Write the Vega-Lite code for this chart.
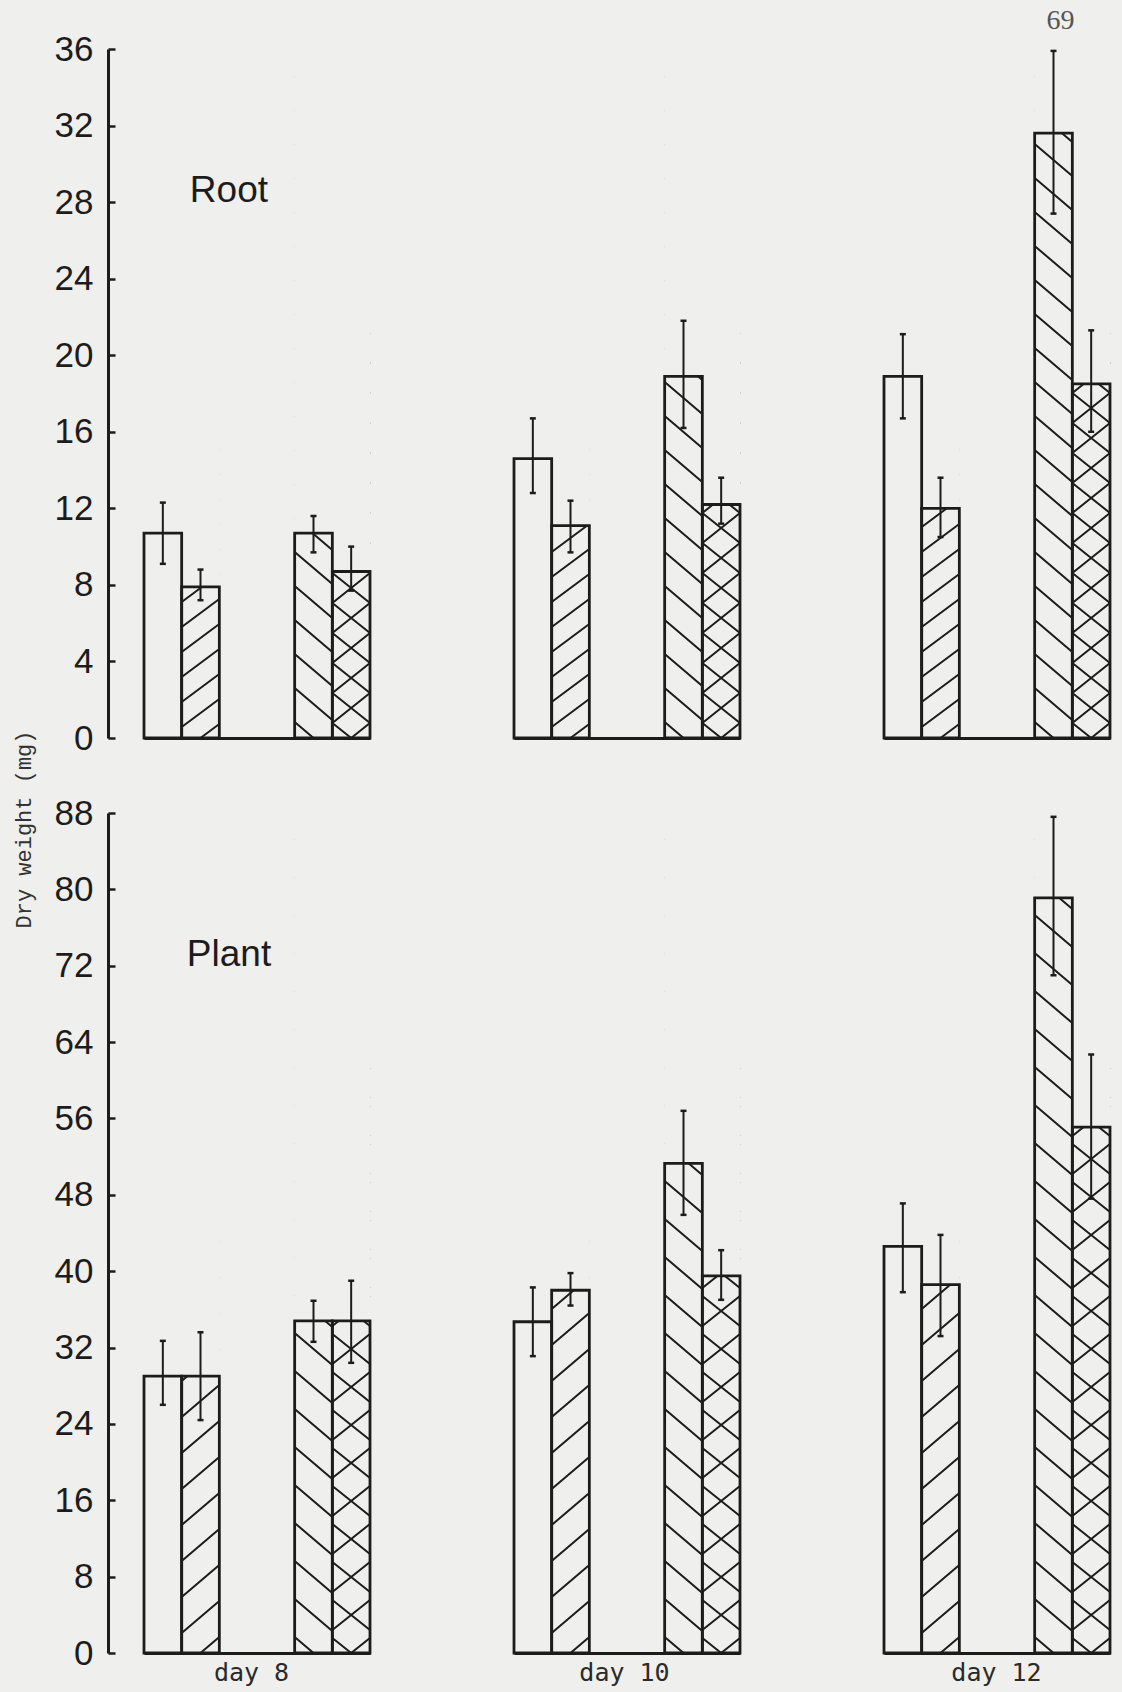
{
  "$schema": "https://vega.github.io/schema/vega-lite/v6.json",
  "background": "#efefed",
  "autosize": {"type": "none"},
  "padding": {"left": 144, "top": 49, "right": 978, "bottom": 1643},
  "config": {
    "view": {"stroke": null},
    "font": "Liberation Sans",
    "axisX": {"labels": false, "ticks": false, "grid": false, "domainWidth": 3, "domainColor": "#1c1c1c", "titleFont": "DejaVu Sans Mono", "titleFontSize": 25, "titleFontWeight": "normal", "titleColor": "#2a2a2a", "titlePadding": 7},
    "axisY": {"offset": 36, "grid": false, "domainWidth": 3, "domainColor": "#1c1c1c", "tickSize": -7, "tickWidth": 2.5, "tickColor": "#1c1c1c", "labelFont": "Liberation Sans", "labelFontSize": 35, "labelColor": "#1c1c1c", "labelPadding": 22, "labelOverlap": false, "labelFlush": false, "titleFont": "Liberation Mono", "titleFontSize": 22, "titleFontWeight": "normal", "titleColor": "#333333", "titleX": -85, "titleY": 16, "titleAngle": -90, "titleAlign": "center", "titleBaseline": "middle"}
  },
  "datasets": {
    "weights": [
      {"panel": "Root", "day": "day 8", "treatment": "T1", "dry_weight": 10.7, "err_low": 9.1, "err_high": 12.3},
      {"panel": "Root", "day": "day 8", "treatment": "T2", "dry_weight": 7.9, "err_low": 7.2, "err_high": 8.8},
      {"panel": "Root", "day": "day 8", "treatment": "T3", "dry_weight": 10.7, "err_low": 9.7, "err_high": 11.6},
      {"panel": "Root", "day": "day 8", "treatment": "T4", "dry_weight": 8.7, "err_low": 7.7, "err_high": 10.0},
      {"panel": "Root", "day": "day 10", "treatment": "T1", "dry_weight": 14.6, "err_low": 12.8, "err_high": 16.7},
      {"panel": "Root", "day": "day 10", "treatment": "T2", "dry_weight": 11.1, "err_low": 9.7, "err_high": 12.4},
      {"panel": "Root", "day": "day 10", "treatment": "T3", "dry_weight": 18.9, "err_low": 16.2, "err_high": 21.8},
      {"panel": "Root", "day": "day 10", "treatment": "T4", "dry_weight": 12.2, "err_low": 11.2, "err_high": 13.6},
      {"panel": "Root", "day": "day 12", "treatment": "T1", "dry_weight": 18.9, "err_low": 16.7, "err_high": 21.1},
      {"panel": "Root", "day": "day 12", "treatment": "T2", "dry_weight": 12.0, "err_low": 10.5, "err_high": 13.6},
      {"panel": "Root", "day": "day 12", "treatment": "T3", "dry_weight": 31.6, "err_low": 27.4, "err_high": 35.9},
      {"panel": "Root", "day": "day 12", "treatment": "T4", "dry_weight": 18.5, "err_low": 16.0, "err_high": 21.3},
      {"panel": "Plant", "day": "day 8", "treatment": "T1", "dry_weight": 29.0, "err_low": 26.0, "err_high": 32.7},
      {"panel": "Plant", "day": "day 8", "treatment": "T2", "dry_weight": 29.0, "err_low": 24.4, "err_high": 33.6},
      {"panel": "Plant", "day": "day 8", "treatment": "T3", "dry_weight": 34.8, "err_low": 32.6, "err_high": 36.9},
      {"panel": "Plant", "day": "day 8", "treatment": "T4", "dry_weight": 34.8, "err_low": 30.4, "err_high": 39.0},
      {"panel": "Plant", "day": "day 10", "treatment": "T1", "dry_weight": 34.7, "err_low": 31.1, "err_high": 38.3},
      {"panel": "Plant", "day": "day 10", "treatment": "T2", "dry_weight": 38.0, "err_low": 36.4, "err_high": 39.8},
      {"panel": "Plant", "day": "day 10", "treatment": "T3", "dry_weight": 51.3, "err_low": 45.9, "err_high": 56.8},
      {"panel": "Plant", "day": "day 10", "treatment": "T4", "dry_weight": 39.5, "err_low": 37.0, "err_high": 42.2},
      {"panel": "Plant", "day": "day 12", "treatment": "T1", "dry_weight": 42.6, "err_low": 37.8, "err_high": 47.1},
      {"panel": "Plant", "day": "day 12", "treatment": "T2", "dry_weight": 38.6, "err_low": 33.2, "err_high": 43.8},
      {"panel": "Plant", "day": "day 12", "treatment": "T3", "dry_weight": 79.1, "err_low": 71.0, "err_high": 87.6},
      {"panel": "Plant", "day": "day 12", "treatment": "T4", "dry_weight": 55.1, "err_low": 47.6, "err_high": 62.7}
    ]
  },
  "columns": 3,
  "bounds": "flush",
  "spacing": {"row": 75, "column": 144},
  "resolve": {"scale": {"shape": "independent"}},
  "concat": [
    {
      "width": 226, "height": 689,
      "data": {"name": "weights"},
      "transform": [{"filter": "datum.panel === 'Root' && datum.day === 'day 8'"}],
      "encoding": {
        "x": {"field": "treatment", "type": "nominal", "scale": {"domain": ["T1", "T2", "_a", "_b", "T3", "T4"], "paddingInner": 0, "paddingOuter": 0}, "axis": {"title": null}},
        "y": {"field": "dry_weight", "type": "quantitative", "scale": {"domain": [0, 36], "nice": false}, "axis": {"values": [0, 4, 8, 12, 16, 20, 24, 28, 32, 36], "title": null}}
      },
      "layer": [
        {"transform": [{"filter": "datum.treatment !== 'T1'"}], "mark": {"type": "point", "filled": false, "size": 4, "opacity": 1, "stroke": "#1c1c1c", "strokeWidth": 2}, "encoding": {"y": {"datum": 0, "axis": {"values": [0, 4, 8, 12, 16, 20, 24, 28, 32, 36], "title": null}}, "shape": {"field": "treatment", "type": "nominal", "legend": null, "scale": {"domain": ["T2", "T3", "T4"], "range": [
          "M0,0L18.8,-14M-18.8,-11L18.8,-39M-18.8,-36L18.8,-64M-18.8,-61L18.8,-89M-18.8,-86L18.8,-114M-18.8,-111L18.8,-139M-18.8,-136L18.8,-164M-18.8,-161L18.8,-189M-18.8,-186L18.8,-214M-18.8,-211L18.8,-239M-18.8,-236L18.8,-264M-18.8,-261L18.8,-289",
          "M-18.8,-16L0,0M-18.8,-50L18.8,-18M-18.8,-84L18.8,-52M-18.8,-118L18.8,-86M-18.8,-152L18.8,-120M-18.8,-186L18.8,-154M-18.8,-220L18.8,-188M-18.8,-254L18.8,-222M-18.8,-288L18.8,-256M-18.8,-322L18.8,-290M-18.8,-356L18.8,-324M-18.8,-390L18.8,-358M-18.8,-424L18.8,-392M-18.8,-458L18.8,-426M-18.8,-492L18.8,-460M-18.8,-526L18.8,-494M-18.8,-560L18.8,-528M-18.8,-594L18.8,-562M-18.8,-628L18.8,-596M-18.8,-662L18.8,-630",
          "M0,0L18.8,-15M-18.8,-15L18.8,-45M-18.8,-45L18.8,-75M-18.8,-75L18.8,-105M-18.8,-105L18.8,-135M-18.8,-135L18.8,-165M-18.8,-165L18.8,-195M-18.8,-195L18.8,-225M-18.8,-225L18.8,-255M-18.8,-255L18.8,-285M-18.8,-285L18.8,-315M-18.8,-315L18.8,-345M-18.8,-345L18.8,-375M-18.8,-375L18.8,-405M-18.8,-15L0,0M-18.8,-45L18.8,-15M-18.8,-75L18.8,-45M-18.8,-105L18.8,-75M-18.8,-135L18.8,-105M-18.8,-165L18.8,-135M-18.8,-195L18.8,-165M-18.8,-225L18.8,-195M-18.8,-255L18.8,-225M-18.8,-285L18.8,-255M-18.8,-315L18.8,-285M-18.8,-345L18.8,-315M-18.8,-375L18.8,-345M-18.8,-405L18.8,-375"
        ]}}}},
        {"mark": {"type": "bar", "fill": "#efefed", "stroke": "#efefed", "strokeWidth": 1}, "encoding": {"y2": {"datum": 36}}},
        {"mark": {"type": "bar", "fillOpacity": 0, "stroke": "#1c1c1c", "strokeWidth": 2.8}},
        {"mark": {"type": "rule", "color": "#1c1c1c", "strokeWidth": 2}, "encoding": {"y": {"field": "err_low", "type": "quantitative", "axis": {"values": [0, 4, 8, 12, 16, 20, 24, 28, 32, 36], "title": null}}, "y2": {"field": "err_high"}}},
        {"mark": {"type": "tick", "size": 6, "thickness": 2.5, "color": "#1c1c1c", "opacity": 1}, "encoding": {"y": {"field": "err_low", "type": "quantitative", "axis": {"values": [0, 4, 8, 12, 16, 20, 24, 28, 32, 36], "title": null}}}},
        {"mark": {"type": "tick", "size": 6, "thickness": 2.5, "color": "#1c1c1c", "opacity": 1}, "encoding": {"y": {"field": "err_high", "type": "quantitative", "axis": {"values": [0, 4, 8, 12, 16, 20, 24, 28, 32, 36], "title": null}}}},
        {"transform": [{"filter": "datum.treatment === 'T1'"}], "mark": {"type": "text", "text": "Root", "align": "left", "baseline": "alphabetic", "dx": 27, "font": "Liberation Sans", "fontSize": 37, "color": "#1c1c1c"}, "encoding": {"y": {"datum": 28, "axis": {"values": [0, 4, 8, 12, 16, 20, 24, 28, 32, 36], "title": null}}}}
      ]
    },
    {
      "width": 226, "height": 689,
      "data": {"name": "weights"},
      "transform": [{"filter": "datum.panel === 'Root' && datum.day === 'day 10'"}],
      "encoding": {
        "x": {"field": "treatment", "type": "nominal", "scale": {"domain": ["T1", "T2", "_a", "_b", "T3", "T4"], "paddingInner": 0, "paddingOuter": 0}, "axis": {"title": null}},
        "y": {"field": "dry_weight", "type": "quantitative", "scale": {"domain": [0, 36], "nice": false}, "axis": null}
      },
      "layer": [
        {"transform": [{"filter": "datum.treatment !== 'T1'"}], "mark": {"type": "point", "filled": false, "size": 4, "opacity": 1, "stroke": "#1c1c1c", "strokeWidth": 2}, "encoding": {"y": {"datum": 0, "axis": null}, "shape": {"field": "treatment", "type": "nominal", "legend": null, "scale": {"domain": ["T2", "T3", "T4"], "range": [
          "M0,0L18.8,-14M-18.8,-11L18.8,-39M-18.8,-36L18.8,-64M-18.8,-61L18.8,-89M-18.8,-86L18.8,-114M-18.8,-111L18.8,-139M-18.8,-136L18.8,-164M-18.8,-161L18.8,-189M-18.8,-186L18.8,-214M-18.8,-211L18.8,-239M-18.8,-236L18.8,-264M-18.8,-261L18.8,-289",
          "M-18.8,-16L0,0M-18.8,-50L18.8,-18M-18.8,-84L18.8,-52M-18.8,-118L18.8,-86M-18.8,-152L18.8,-120M-18.8,-186L18.8,-154M-18.8,-220L18.8,-188M-18.8,-254L18.8,-222M-18.8,-288L18.8,-256M-18.8,-322L18.8,-290M-18.8,-356L18.8,-324M-18.8,-390L18.8,-358M-18.8,-424L18.8,-392M-18.8,-458L18.8,-426M-18.8,-492L18.8,-460M-18.8,-526L18.8,-494M-18.8,-560L18.8,-528M-18.8,-594L18.8,-562M-18.8,-628L18.8,-596M-18.8,-662L18.8,-630",
          "M0,0L18.8,-15M-18.8,-15L18.8,-45M-18.8,-45L18.8,-75M-18.8,-75L18.8,-105M-18.8,-105L18.8,-135M-18.8,-135L18.8,-165M-18.8,-165L18.8,-195M-18.8,-195L18.8,-225M-18.8,-225L18.8,-255M-18.8,-255L18.8,-285M-18.8,-285L18.8,-315M-18.8,-315L18.8,-345M-18.8,-345L18.8,-375M-18.8,-375L18.8,-405M-18.8,-15L0,0M-18.8,-45L18.8,-15M-18.8,-75L18.8,-45M-18.8,-105L18.8,-75M-18.8,-135L18.8,-105M-18.8,-165L18.8,-135M-18.8,-195L18.8,-165M-18.8,-225L18.8,-195M-18.8,-255L18.8,-225M-18.8,-285L18.8,-255M-18.8,-315L18.8,-285M-18.8,-345L18.8,-315M-18.8,-375L18.8,-345M-18.8,-405L18.8,-375"
        ]}}}},
        {"mark": {"type": "bar", "fill": "#efefed", "stroke": "#efefed", "strokeWidth": 1}, "encoding": {"y2": {"datum": 36}}},
        {"mark": {"type": "bar", "fillOpacity": 0, "stroke": "#1c1c1c", "strokeWidth": 2.8}},
        {"mark": {"type": "rule", "color": "#1c1c1c", "strokeWidth": 2}, "encoding": {"y": {"field": "err_low", "type": "quantitative", "axis": null}, "y2": {"field": "err_high"}}},
        {"mark": {"type": "tick", "size": 6, "thickness": 2.5, "color": "#1c1c1c", "opacity": 1}, "encoding": {"y": {"field": "err_low", "type": "quantitative", "axis": null}}},
        {"mark": {"type": "tick", "size": 6, "thickness": 2.5, "color": "#1c1c1c", "opacity": 1}, "encoding": {"y": {"field": "err_high", "type": "quantitative", "axis": null}}}
      ]
    },
    {
      "width": 226, "height": 689,
      "data": {"name": "weights"},
      "transform": [{"filter": "datum.panel === 'Root' && datum.day === 'day 12'"}],
      "encoding": {
        "x": {"field": "treatment", "type": "nominal", "scale": {"domain": ["T1", "T2", "_a", "_b", "T3", "T4"], "paddingInner": 0, "paddingOuter": 0}, "axis": {"title": null}},
        "y": {"field": "dry_weight", "type": "quantitative", "scale": {"domain": [0, 36], "nice": false}, "axis": null}
      },
      "layer": [
        {"transform": [{"filter": "datum.treatment !== 'T1'"}], "mark": {"type": "point", "filled": false, "size": 4, "opacity": 1, "stroke": "#1c1c1c", "strokeWidth": 2}, "encoding": {"y": {"datum": 0, "axis": null}, "shape": {"field": "treatment", "type": "nominal", "legend": null, "scale": {"domain": ["T2", "T3", "T4"], "range": [
          "M0,0L18.8,-14M-18.8,-11L18.8,-39M-18.8,-36L18.8,-64M-18.8,-61L18.8,-89M-18.8,-86L18.8,-114M-18.8,-111L18.8,-139M-18.8,-136L18.8,-164M-18.8,-161L18.8,-189M-18.8,-186L18.8,-214M-18.8,-211L18.8,-239M-18.8,-236L18.8,-264M-18.8,-261L18.8,-289",
          "M-18.8,-16L0,0M-18.8,-50L18.8,-18M-18.8,-84L18.8,-52M-18.8,-118L18.8,-86M-18.8,-152L18.8,-120M-18.8,-186L18.8,-154M-18.8,-220L18.8,-188M-18.8,-254L18.8,-222M-18.8,-288L18.8,-256M-18.8,-322L18.8,-290M-18.8,-356L18.8,-324M-18.8,-390L18.8,-358M-18.8,-424L18.8,-392M-18.8,-458L18.8,-426M-18.8,-492L18.8,-460M-18.8,-526L18.8,-494M-18.8,-560L18.8,-528M-18.8,-594L18.8,-562M-18.8,-628L18.8,-596M-18.8,-662L18.8,-630",
          "M0,0L18.8,-15M-18.8,-15L18.8,-45M-18.8,-45L18.8,-75M-18.8,-75L18.8,-105M-18.8,-105L18.8,-135M-18.8,-135L18.8,-165M-18.8,-165L18.8,-195M-18.8,-195L18.8,-225M-18.8,-225L18.8,-255M-18.8,-255L18.8,-285M-18.8,-285L18.8,-315M-18.8,-315L18.8,-345M-18.8,-345L18.8,-375M-18.8,-375L18.8,-405M-18.8,-15L0,0M-18.8,-45L18.8,-15M-18.8,-75L18.8,-45M-18.8,-105L18.8,-75M-18.8,-135L18.8,-105M-18.8,-165L18.8,-135M-18.8,-195L18.8,-165M-18.8,-225L18.8,-195M-18.8,-255L18.8,-225M-18.8,-285L18.8,-255M-18.8,-315L18.8,-285M-18.8,-345L18.8,-315M-18.8,-375L18.8,-345M-18.8,-405L18.8,-375"
        ]}}}},
        {"mark": {"type": "bar", "fill": "#efefed", "stroke": "#efefed", "strokeWidth": 1}, "encoding": {"y2": {"datum": 36}}},
        {"mark": {"type": "bar", "fillOpacity": 0, "stroke": "#1c1c1c", "strokeWidth": 2.8}},
        {"mark": {"type": "rule", "color": "#1c1c1c", "strokeWidth": 2}, "encoding": {"y": {"field": "err_low", "type": "quantitative", "axis": null}, "y2": {"field": "err_high"}}},
        {"mark": {"type": "tick", "size": 6, "thickness": 2.5, "color": "#1c1c1c", "opacity": 1}, "encoding": {"y": {"field": "err_low", "type": "quantitative", "axis": null}}},
        {"mark": {"type": "tick", "size": 6, "thickness": 2.5, "color": "#1c1c1c", "opacity": 1}, "encoding": {"y": {"field": "err_high", "type": "quantitative", "axis": null}}},
        {"transform": [{"filter": "datum.treatment === 'T3'"}], "mark": {"type": "text", "text": "69", "align": "center", "baseline": "middle", "dx": 7, "dy": -28, "font": "Liberation Serif", "fontSize": 28, "color": "#555555"}, "encoding": {"y": {"datum": 36, "axis": null}}}
      ]
    },
    {
      "width": 226, "height": 840,
      "data": {"name": "weights"},
      "transform": [{"filter": "datum.panel === 'Plant' && datum.day === 'day 8'"}],
      "encoding": {
        "x": {"field": "treatment", "type": "nominal", "scale": {"domain": ["T1", "T2", "_a", "_b", "T3", "T4"], "paddingInner": 0, "paddingOuter": 0}, "axis": {"title": "day 8", "titleX": 107}},
        "y": {"field": "dry_weight", "type": "quantitative", "scale": {"domain": [0, 88], "nice": false}, "axis": {"values": [0, 8, 16, 24, 32, 40, 48, 56, 64, 72, 80, 88], "title": "Dry weight (mg)"}}
      },
      "layer": [
        {"transform": [{"filter": "datum.treatment !== 'T1'"}], "mark": {"type": "point", "filled": false, "size": 4, "opacity": 1, "stroke": "#1c1c1c", "strokeWidth": 2}, "encoding": {"y": {"datum": 0, "axis": {"values": [0, 8, 16, 24, 32, 40, 48, 56, 64, 72, 80, 88], "title": "Dry weight (mg)"}}, "shape": {"field": "treatment", "type": "nominal", "legend": null, "scale": {"domain": ["T2", "T3", "T4"], "range": [
          "M0,0L18.8,-16M-18.8,-20L18.8,-52M-18.8,-56L18.8,-88M-18.8,-92L18.8,-124M-18.8,-128L18.8,-160M-18.8,-164L18.8,-196M-18.8,-200L18.8,-232M-18.8,-236L18.8,-268M-18.8,-272L18.8,-304M-18.8,-308L18.8,-340M-18.8,-344L18.8,-376M-18.8,-380L18.8,-412",
          "M-18.8,-16L0,0M-18.8,-54L18.8,-22M-18.8,-92L18.8,-60M-18.8,-130L18.8,-98M-18.8,-168L18.8,-136M-18.8,-206L18.8,-174M-18.8,-244L18.8,-212M-18.8,-282L18.8,-250M-18.8,-320L18.8,-288M-18.8,-358L18.8,-326M-18.8,-396L18.8,-364M-18.8,-434L18.8,-402M-18.8,-472L18.8,-440M-18.8,-510L18.8,-478M-18.8,-548L18.8,-516M-18.8,-586L18.8,-554M-18.8,-624L18.8,-592M-18.8,-662L18.8,-630M-18.8,-700L18.8,-668M-18.8,-738L18.8,-706M-18.8,-776L18.8,-744M-18.8,-814L18.8,-782",
          "M0,0L18.8,-15M-18.8,-23L18.8,-53M-18.8,-61L18.8,-91M-18.8,-99L18.8,-129M-18.8,-137L18.8,-167M-18.8,-175L18.8,-205M-18.8,-213L18.8,-243M-18.8,-251L18.8,-281M-18.8,-289L18.8,-319M-18.8,-327L18.8,-357M-18.8,-365L18.8,-395M-18.8,-403L18.8,-433M-18.8,-441L18.8,-471M-18.8,-479L18.8,-509M-18.8,-517L18.8,-547M-18.8,-555L18.8,-585M-18.8,-15L0,0M-18.8,-53L18.8,-23M-18.8,-91L18.8,-61M-18.8,-129L18.8,-99M-18.8,-167L18.8,-137M-18.8,-205L18.8,-175M-18.8,-243L18.8,-213M-18.8,-281L18.8,-251M-18.8,-319L18.8,-289M-18.8,-357L18.8,-327M-18.8,-395L18.8,-365M-18.8,-433L18.8,-403M-18.8,-471L18.8,-441M-18.8,-509L18.8,-479M-18.8,-547L18.8,-517M-18.8,-585L18.8,-555"
        ]}}}},
        {"mark": {"type": "bar", "fill": "#efefed", "stroke": "#efefed", "strokeWidth": 1}, "encoding": {"y2": {"datum": 88}}},
        {"mark": {"type": "bar", "fillOpacity": 0, "stroke": "#1c1c1c", "strokeWidth": 2.8}},
        {"mark": {"type": "rule", "color": "#1c1c1c", "strokeWidth": 2}, "encoding": {"y": {"field": "err_low", "type": "quantitative", "axis": {"values": [0, 8, 16, 24, 32, 40, 48, 56, 64, 72, 80, 88], "title": "Dry weight (mg)"}}, "y2": {"field": "err_high"}}},
        {"mark": {"type": "tick", "size": 6, "thickness": 2.5, "color": "#1c1c1c", "opacity": 1}, "encoding": {"y": {"field": "err_low", "type": "quantitative", "axis": {"values": [0, 8, 16, 24, 32, 40, 48, 56, 64, 72, 80, 88], "title": "Dry weight (mg)"}}}},
        {"mark": {"type": "tick", "size": 6, "thickness": 2.5, "color": "#1c1c1c", "opacity": 1}, "encoding": {"y": {"field": "err_high", "type": "quantitative", "axis": {"values": [0, 8, 16, 24, 32, 40, 48, 56, 64, 72, 80, 88], "title": "Dry weight (mg)"}}}},
        {"transform": [{"filter": "datum.treatment === 'T1'"}], "mark": {"type": "text", "text": "Plant", "align": "left", "baseline": "alphabetic", "dx": 24, "font": "Liberation Sans", "fontSize": 37, "color": "#1c1c1c"}, "encoding": {"y": {"datum": 72, "axis": {"values": [0, 8, 16, 24, 32, 40, 48, 56, 64, 72, 80, 88], "title": "Dry weight (mg)"}}}}
      ]
    },
    {
      "width": 226, "height": 840,
      "data": {"name": "weights"},
      "transform": [{"filter": "datum.panel === 'Plant' && datum.day === 'day 10'"}],
      "encoding": {
        "x": {"field": "treatment", "type": "nominal", "scale": {"domain": ["T1", "T2", "_a", "_b", "T3", "T4"], "paddingInner": 0, "paddingOuter": 0}, "axis": {"title": "day 10", "titleX": 110}},
        "y": {"field": "dry_weight", "type": "quantitative", "scale": {"domain": [0, 88], "nice": false}, "axis": null}
      },
      "layer": [
        {"transform": [{"filter": "datum.treatment !== 'T1'"}], "mark": {"type": "point", "filled": false, "size": 4, "opacity": 1, "stroke": "#1c1c1c", "strokeWidth": 2}, "encoding": {"y": {"datum": 0, "axis": null}, "shape": {"field": "treatment", "type": "nominal", "legend": null, "scale": {"domain": ["T2", "T3", "T4"], "range": [
          "M0,0L18.8,-16M-18.8,-20L18.8,-52M-18.8,-56L18.8,-88M-18.8,-92L18.8,-124M-18.8,-128L18.8,-160M-18.8,-164L18.8,-196M-18.8,-200L18.8,-232M-18.8,-236L18.8,-268M-18.8,-272L18.8,-304M-18.8,-308L18.8,-340M-18.8,-344L18.8,-376M-18.8,-380L18.8,-412",
          "M-18.8,-16L0,0M-18.8,-54L18.8,-22M-18.8,-92L18.8,-60M-18.8,-130L18.8,-98M-18.8,-168L18.8,-136M-18.8,-206L18.8,-174M-18.8,-244L18.8,-212M-18.8,-282L18.8,-250M-18.8,-320L18.8,-288M-18.8,-358L18.8,-326M-18.8,-396L18.8,-364M-18.8,-434L18.8,-402M-18.8,-472L18.8,-440M-18.8,-510L18.8,-478M-18.8,-548L18.8,-516M-18.8,-586L18.8,-554M-18.8,-624L18.8,-592M-18.8,-662L18.8,-630M-18.8,-700L18.8,-668M-18.8,-738L18.8,-706M-18.8,-776L18.8,-744M-18.8,-814L18.8,-782",
          "M0,0L18.8,-15M-18.8,-23L18.8,-53M-18.8,-61L18.8,-91M-18.8,-99L18.8,-129M-18.8,-137L18.8,-167M-18.8,-175L18.8,-205M-18.8,-213L18.8,-243M-18.8,-251L18.8,-281M-18.8,-289L18.8,-319M-18.8,-327L18.8,-357M-18.8,-365L18.8,-395M-18.8,-403L18.8,-433M-18.8,-441L18.8,-471M-18.8,-479L18.8,-509M-18.8,-517L18.8,-547M-18.8,-555L18.8,-585M-18.8,-15L0,0M-18.8,-53L18.8,-23M-18.8,-91L18.8,-61M-18.8,-129L18.8,-99M-18.8,-167L18.8,-137M-18.8,-205L18.8,-175M-18.8,-243L18.8,-213M-18.8,-281L18.8,-251M-18.8,-319L18.8,-289M-18.8,-357L18.8,-327M-18.8,-395L18.8,-365M-18.8,-433L18.8,-403M-18.8,-471L18.8,-441M-18.8,-509L18.8,-479M-18.8,-547L18.8,-517M-18.8,-585L18.8,-555"
        ]}}}},
        {"mark": {"type": "bar", "fill": "#efefed", "stroke": "#efefed", "strokeWidth": 1}, "encoding": {"y2": {"datum": 88}}},
        {"mark": {"type": "bar", "fillOpacity": 0, "stroke": "#1c1c1c", "strokeWidth": 2.8}},
        {"mark": {"type": "rule", "color": "#1c1c1c", "strokeWidth": 2}, "encoding": {"y": {"field": "err_low", "type": "quantitative", "axis": null}, "y2": {"field": "err_high"}}},
        {"mark": {"type": "tick", "size": 6, "thickness": 2.5, "color": "#1c1c1c", "opacity": 1}, "encoding": {"y": {"field": "err_low", "type": "quantitative", "axis": null}}},
        {"mark": {"type": "tick", "size": 6, "thickness": 2.5, "color": "#1c1c1c", "opacity": 1}, "encoding": {"y": {"field": "err_high", "type": "quantitative", "axis": null}}}
      ]
    },
    {
      "width": 226, "height": 840,
      "data": {"name": "weights"},
      "transform": [{"filter": "datum.panel === 'Plant' && datum.day === 'day 12'"}],
      "encoding": {
        "x": {"field": "treatment", "type": "nominal", "scale": {"domain": ["T1", "T2", "_a", "_b", "T3", "T4"], "paddingInner": 0, "paddingOuter": 0}, "axis": {"title": "day 12", "titleX": 112}},
        "y": {"field": "dry_weight", "type": "quantitative", "scale": {"domain": [0, 88], "nice": false}, "axis": null}
      },
      "layer": [
        {"transform": [{"filter": "datum.treatment !== 'T1'"}], "mark": {"type": "point", "filled": false, "size": 4, "opacity": 1, "stroke": "#1c1c1c", "strokeWidth": 2}, "encoding": {"y": {"datum": 0, "axis": null}, "shape": {"field": "treatment", "type": "nominal", "legend": null, "scale": {"domain": ["T2", "T3", "T4"], "range": [
          "M0,0L18.8,-16M-18.8,-20L18.8,-52M-18.8,-56L18.8,-88M-18.8,-92L18.8,-124M-18.8,-128L18.8,-160M-18.8,-164L18.8,-196M-18.8,-200L18.8,-232M-18.8,-236L18.8,-268M-18.8,-272L18.8,-304M-18.8,-308L18.8,-340M-18.8,-344L18.8,-376M-18.8,-380L18.8,-412",
          "M-18.8,-16L0,0M-18.8,-54L18.8,-22M-18.8,-92L18.8,-60M-18.8,-130L18.8,-98M-18.8,-168L18.8,-136M-18.8,-206L18.8,-174M-18.8,-244L18.8,-212M-18.8,-282L18.8,-250M-18.8,-320L18.8,-288M-18.8,-358L18.8,-326M-18.8,-396L18.8,-364M-18.8,-434L18.8,-402M-18.8,-472L18.8,-440M-18.8,-510L18.8,-478M-18.8,-548L18.8,-516M-18.8,-586L18.8,-554M-18.8,-624L18.8,-592M-18.8,-662L18.8,-630M-18.8,-700L18.8,-668M-18.8,-738L18.8,-706M-18.8,-776L18.8,-744M-18.8,-814L18.8,-782",
          "M0,0L18.8,-15M-18.8,-23L18.8,-53M-18.8,-61L18.8,-91M-18.8,-99L18.8,-129M-18.8,-137L18.8,-167M-18.8,-175L18.8,-205M-18.8,-213L18.8,-243M-18.8,-251L18.8,-281M-18.8,-289L18.8,-319M-18.8,-327L18.8,-357M-18.8,-365L18.8,-395M-18.8,-403L18.8,-433M-18.8,-441L18.8,-471M-18.8,-479L18.8,-509M-18.8,-517L18.8,-547M-18.8,-555L18.8,-585M-18.8,-15L0,0M-18.8,-53L18.8,-23M-18.8,-91L18.8,-61M-18.8,-129L18.8,-99M-18.8,-167L18.8,-137M-18.8,-205L18.8,-175M-18.8,-243L18.8,-213M-18.8,-281L18.8,-251M-18.8,-319L18.8,-289M-18.8,-357L18.8,-327M-18.8,-395L18.8,-365M-18.8,-433L18.8,-403M-18.8,-471L18.8,-441M-18.8,-509L18.8,-479M-18.8,-547L18.8,-517M-18.8,-585L18.8,-555"
        ]}}}},
        {"mark": {"type": "bar", "fill": "#efefed", "stroke": "#efefed", "strokeWidth": 1}, "encoding": {"y2": {"datum": 88}}},
        {"mark": {"type": "bar", "fillOpacity": 0, "stroke": "#1c1c1c", "strokeWidth": 2.8}},
        {"mark": {"type": "rule", "color": "#1c1c1c", "strokeWidth": 2}, "encoding": {"y": {"field": "err_low", "type": "quantitative", "axis": null}, "y2": {"field": "err_high"}}},
        {"mark": {"type": "tick", "size": 6, "thickness": 2.5, "color": "#1c1c1c", "opacity": 1}, "encoding": {"y": {"field": "err_low", "type": "quantitative", "axis": null}}},
        {"mark": {"type": "tick", "size": 6, "thickness": 2.5, "color": "#1c1c1c", "opacity": 1}, "encoding": {"y": {"field": "err_high", "type": "quantitative", "axis": null}}}
      ]
    }
  ]
}
